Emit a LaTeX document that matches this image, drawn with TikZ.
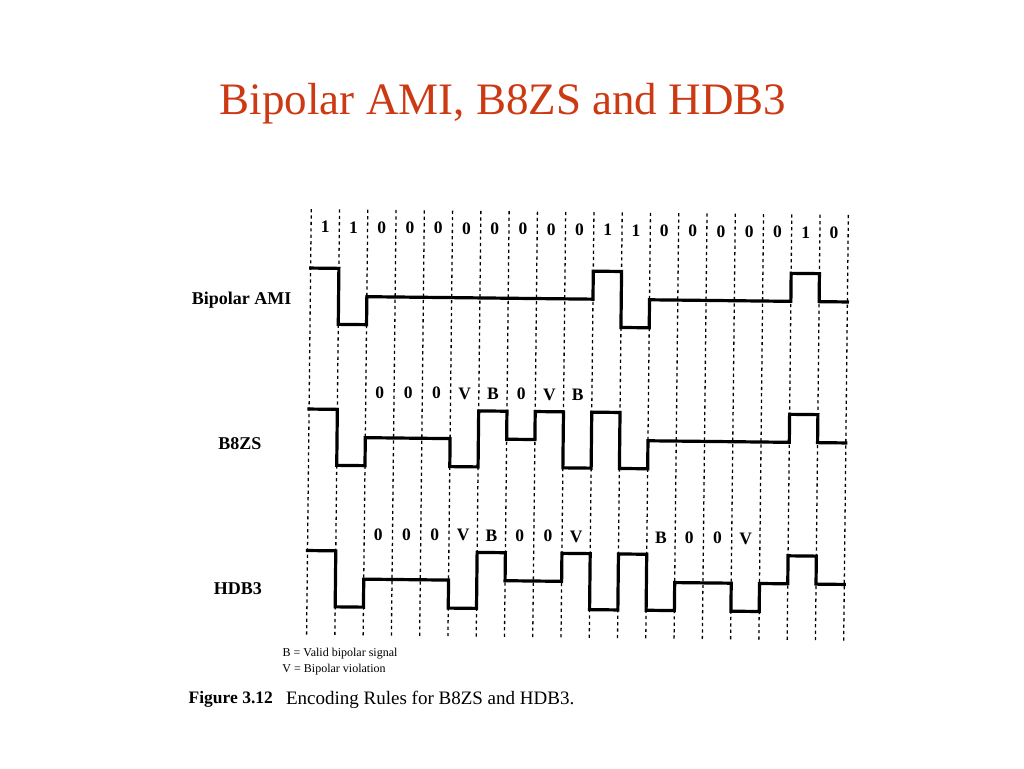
\documentclass[tikz,border=0pt]{standalone}
\usepackage{fontspec}
\setmainfont{Liberation Serif}
\definecolor{titlered}{RGB}{204,58,20}
\begin{document}
\begin{tikzpicture}[x=1pt,y=-1pt,
  wave/.style={line width=3.2pt, line join=miter, line cap=rect},
  gridline/.style={line width=1.3pt, dash pattern=on 3.2pt off 3.2pt},
  bitlbl/.style={font=\fontsize{17.5}{19}\selectfont\bfseries, inner sep=0pt, anchor=base},
  rowlbl/.style={font=\fontsize{18}{20}\selectfont\bfseries, inner sep=0pt, anchor=base},
  legend/.style={font=\fontsize{12}{14}\selectfont, inner sep=0pt, anchor=base west},
]
\fill[white] (0,0) rectangle (1024,768);
\useasboundingbox (0,0) rectangle (1024,768);
\node[font=\fontsize{45}{50}\selectfont, text=titlered, anchor=base, inner sep=0pt] (title) at (503,114) {Bipolar AMI, B8ZS and HDB3};
\begin{scope}[rotate around={-0.63:(578,425)}]
  \def\xz{308.9}
  \def\dx{28.27}
  % grid
  \foreach \i in {0,...,19}
    \draw[gridline] ({\xz+\dx*\i},212) -- ({\xz+\dx*\i},639);
  % bit labels (data)
  \foreach \b [count=\i] in {1,1,0,0,0,0,0,0,0,0,1,1,0,0,0,0,0,1,0}
    \node[bitlbl] (bit\i) at ({\xz+\dx*\i-\dx/2},235.5) {\b};
  % B8ZS labels
  \foreach \b [count=\i from 3] in {0,0,0,V,B,0,V,B}
    \node[bitlbl] (bz\i) at ({\xz+\dx*\i-\dx/2},400.5) {\b};
  % HDB3 labels
  \foreach \b [count=\i from 3] in {0,0,0,V,B,0,0,V}
    \node[bitlbl] (hd\i) at ({\xz+\dx*\i-\dx/2},542.2) {\b};
  \foreach \b [count=\i from 13] in {B,0,0,V}
    \node[bitlbl] (hd\i) at ({\xz+\dx*\i-\dx/2},542.2) {\b};
  % waveforms
  \draw[wave] (\xz,271) \foreach \l [count=\i from 0] in {1,-1,0,0,0,0,0,0,0,0,1,-1,0,0,0,0,0,1,0}
    { -- ({\xz+\dx*\i},{299-28*\l}) -- ({\xz+\dx*\i+\dx},{299-28*\l}) };
  \draw[wave] (\xz,412) \foreach \l [count=\i from 0] in {1,-1,0,0,0,-1,1,0,1,-1,1,-1,0,0,0,0,0,1,0}
    { -- ({\xz+\dx*\i},{440-28*\l}) -- ({\xz+\dx*\i+\dx},{440-28*\l}) };
  \draw[wave] (\xz,553.5) \foreach \l [count=\i from 0] in {1,-1,0,0,0,-1,1,0,0,1,-1,1,-1,0,0,-1,0,1,0}
    { -- ({\xz+\dx*\i},{581.5-28*\l}) -- ({\xz+\dx*\i+\dx},{581.5-28*\l}) };
  % row labels
  \node[rowlbl] (lami) at (240.3,308) {Bipolar AMI};
  \node[rowlbl] (lbz) at (240.2,453.7) {B8ZS};
  \node[rowlbl] (lhd) at (239.8,598.7) {HDB3};
  % legend
  \node[legend] (legB) at (285,660) {B = Valid bipolar signal};
  \node[legend] (legV) at (285,675.5) {V = Bipolar violation};
  % caption
  \node[font=\fontsize{17.5}{19}\selectfont\bfseries, inner sep=0pt, anchor=base west] (fig) at (191.5,708) {Figure 3.12};
  \node[font=\fontsize{19}{21}\selectfont, inner sep=0pt, anchor=base west] (cap) at (289,708) {Encoding Rules for B8ZS and HDB3.};
\end{scope}
\end{tikzpicture}
\end{document}
